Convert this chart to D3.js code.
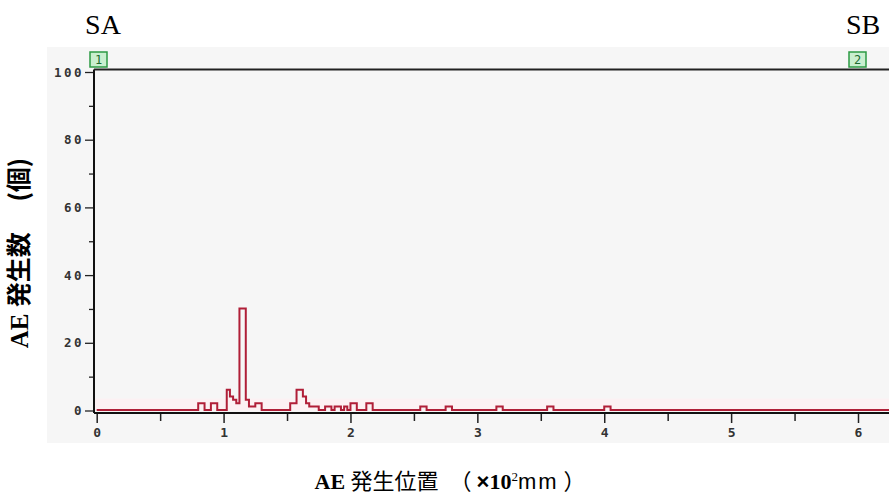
<!DOCTYPE html>
<html>
<head>
<meta charset="utf-8">
<script src="https://cdn.jsdelivr.net/npm/d3@7"></script>
<style>
  body { margin: 0; background: #fff; }
  svg { display: block; }
</style>
</head>
<body>
<div id="chart"></div>
<script>
// histogram bins (start position in x10^2 mm) and counts, only non-empty bins
var binWidth = 0.025
var binStarts = [0.800, 0.825, 0.900, 0.925,
                 1.025, 1.050, 1.075, 1.100, 1.125, 1.150, 1.175, 1.200, 1.225, 1.250, 1.275,
                 1.525, 1.550, 1.575, 1.600, 1.625, 1.650, 1.675, 1.700, 1.725,
                 1.800, 1.825, 1.875, 1.900, 1.950,
                 2.000, 2.025, 2.125, 2.150,
                 2.550, 2.575, 2.750, 2.775, 3.150, 3.175, 3.550, 3.575, 4.000, 4.025]
var binCounts = [2, 2, 2, 2,
                 6, 4, 3, 2, 30, 30, 3, 1, 1, 2, 2,
                 2, 2, 6, 6, 4, 2, 1, 1, 1,
                 1, 1, 1, 1, 1,
                 2, 2, 2, 2,
                 1, 1, 1, 1, 1, 1, 1, 1, 1, 1]

var xTicks = [0, 1, 2, 3, 4, 5, 6]
var xMinor = [0.5, 1.5, 2.5, 3.5, 4.5, 5.5]
var yTicks = [0, 20, 40, 60, 80, 100]
var yMinor = [10, 30, 50, 70, 90]

var screen = {width: 889, height: 504}

var svg = d3.select("#chart")
    .append("svg")
    .attr("width", screen.width)
    .attr("height", screen.height)

// scales
var xScale = d3.scaleLinear().domain([0, 6]).range([96.7, 858])
var yScale = d3.scaleLinear().domain([0, 100]).range([410.5, 72])

// gray panel behind the plot
svg.append("rect")
    .attr("x", 47).attr("y", 47)
    .attr("width", screen.width - 47).attr("height", 396)
    .attr("fill", "#f6f6f6")

// faint pink glow along the baseline
svg.append("rect")
    .attr("x", 95).attr("y", yScale(0) - 12)
    .attr("width", screen.width - 95).attr("height", 12)
    .attr("fill", "#fcf1f3")

// full histogram array (empty bins are zero)
var nBins = Math.round(6.3 / binWidth)
var hist = []
for (var i = 0; i <= nBins; i++) {
    hist.push({x: i * binWidth, c: 0})
}
binStarts.forEach(function(s, j) {
    hist[Math.round(s / binWidth)].c = binCounts[j]
})

var line = d3.line()
    .x(function(d) { return Math.max(xScale(d.x), 94) })
    .y(function(d) { return yScale(d.c) - 0.5 })
    .curve(d3.curveStepAfter)

svg.append("path")
    .datum(hist)
    .attr("d", line)
    .attr("fill", "none")
    .attr("stroke", "#b01f38")
    .attr("stroke-width", 2)

var tickFont = "'DejaVu Sans Mono', monospace"

// y axis
var yAxis = d3.axisLeft(yScale).tickValues(yTicks).tickSize(9).tickFormat(d3.format("d"))
var gy = svg.append("g")
    .attr("transform", "translate(94,0)")
    .call(yAxis)
gy.select(".domain").remove()
gy.selectAll(".tick line").attr("stroke", "#222").attr("stroke-width", 1.3)
gy.selectAll(".tick text")
    .attr("x", -10)
    .style("font-family", tickFont)
    .style("font-weight", "bold")
    .style("font-size", "12.5px")
    .style("letter-spacing", "2.5px")
    .attr("fill", "#333")

var gyMinor = svg.append("g")
    .attr("transform", "translate(94,0)")
    .call(d3.axisLeft(yScale).tickValues(yMinor).tickSize(5).tickFormat(""))
gyMinor.select(".domain").remove()
gyMinor.selectAll(".tick line").attr("stroke", "#222").attr("stroke-width", 1.3)

svg.append("line")
    .attr("x1", 94).attr("x2", 94)
    .attr("y1", 69.5).attr("y2", 413)
    .attr("stroke", "#111").attr("stroke-width", 2)

// top line
svg.append("line")
    .attr("x1", 94).attr("x2", screen.width)
    .attr("y1", 69.5).attr("y2", 69.5)
    .attr("stroke", "#222").attr("stroke-width", 1.8)

// x axis
var xAxis = d3.axisBottom(xScale).tickValues(xTicks).tickSize(10).tickFormat(d3.format("d"))
var gx = svg.append("g")
    .attr("transform", "translate(0,413)")
    .call(xAxis)
gx.select(".domain").remove()
gx.selectAll(".tick line").attr("stroke", "#222").attr("stroke-width", 1.5)
gx.selectAll(".tick text")
    .attr("y", 15)
    .style("font-family", tickFont)
    .style("font-weight", "bold")
    .style("font-size", "13px")
    .attr("fill", "#333")

var gxMinor = svg.append("g")
    .attr("transform", "translate(0,413)")
    .call(d3.axisBottom(xScale).tickValues(xMinor).tickSize(8).tickFormat(""))
gxMinor.select(".domain").remove()
gxMinor.selectAll(".tick line").attr("stroke", "#222").attr("stroke-width", 1.5)

svg.append("line")
    .attr("x1", 94).attr("x2", screen.width)
    .attr("y1", 413).attr("y2", 413)
    .attr("stroke", "#111").attr("stroke-width", 2)

// sensor markers
var sensors = [{label: "1", x: 90}, {label: "2", x: 849}]
sensors.forEach(function(s) {
    svg.append("rect")
        .attr("x", s.x).attr("y", 52)
        .attr("width", 17).attr("height", 15)
        .attr("fill", "#c9efcf")
        .attr("stroke", "#2c9a44")
        .attr("stroke-width", 1.5)
    svg.append("text")
        .attr("x", s.x + 8.5).attr("y", 64)
        .attr("text-anchor", "middle")
        .style("font-family", tickFont)
        .style("font-size", "12px")
        .attr("fill", "#1d6b2f")
        .text(s.label)
})

// sensor names
svg.append("text")
    .attr("x", 103).attr("y", 34)
    .attr("text-anchor", "middle")
    .style("font-family", "'Liberation Serif', serif")
    .style("font-size", "28px")
    .attr("fill", "#000")
    .text("SA")

svg.append("text")
    .attr("x", 863).attr("y", 34)
    .attr("text-anchor", "middle")
    .style("font-family", "'Liberation Serif', serif")
    .style("font-size", "28px")
    .attr("fill", "#000")
    .text("SB")

// x axis title
var xt = svg.append("text")
    .attr("x", 450).attr("y", 489)
    .attr("text-anchor", "middle")
    .style("font-size", "22px")
    .attr("fill", "#000")
xt.append("tspan").style("font-family", "'Liberation Serif', serif").style("font-weight", "bold").text("AE ")
xt.append("tspan").style("font-family", "'Noto Sans CJK JP', sans-serif").text("発生位置　（ ")
xt.append("tspan").style("font-family", "'Liberation Sans', sans-serif").style("font-weight", "bold").text("×")
xt.append("tspan").style("font-family", "'Liberation Serif', serif").style("font-weight", "bold").text("10")
xt.append("tspan").style("font-family", "'Liberation Serif', serif").style("font-size", "13px").attr("dy", -8).text("2")
xt.append("tspan").style("font-family", "'Liberation Sans', sans-serif").style("letter-spacing", "2px").attr("dy", 8).text("mm")
xt.append("tspan").style("font-family", "'Noto Sans CJK JP', sans-serif").text("  ）")

// y axis title
var yt = svg.append("text")
    .attr("transform", "translate(28,253) rotate(-90)")
    .attr("text-anchor", "middle")
    .style("font-size", "25px")
    .attr("fill", "#000")
yt.append("tspan").style("font-family", "'Liberation Serif', serif").style("font-weight", "bold").text("AE ")
yt.append("tspan").style("font-family", "'Noto Sans CJK JP', sans-serif").style("font-weight", "bold").text("発生数　 (個)")
</script>
</body>
</html>
